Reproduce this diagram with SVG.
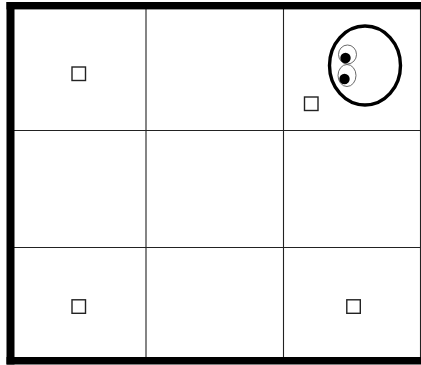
<svg xmlns="http://www.w3.org/2000/svg" width="421" height="365" viewBox="0 0 421 365">
<style>
.grid{stroke:#222;stroke-width:1.1;fill:none}
.wall{fill:#000}
.sq{fill:#fff;stroke:#222;stroke-width:1.4}
.thin{fill:none;stroke:#444;stroke-width:.8}
</style>
<rect width="421" height="365" fill="#fff"/>
<g id="grid">
<path class="grid" d="M146 9V357M283.500 9V357M420.500 9V357M14 130.500H420M14 247.500H420"/>
</g>
<g id="walls">
<rect class="wall" x="6.500" y="2" width="414.500" height="7.400"/>
<rect class="wall" x="6.500" y="2" width="8" height="362.500"/>
<rect class="wall" x="6.500" y="357" width="414.500" height="7.500"/>
</g>
<g id="square-top-left"><rect class="sq" x="72" y="67" width="13.500" height="13.500"/></g>
<g id="square-bottom-left"><rect class="sq" x="72" y="299.800" width="13.500" height="13.500"/></g>
<g id="square-bottom-right"><rect class="sq" x="346.800" y="299.800" width="13.500" height="13.500"/></g>
<g id="square-top-right"><rect class="sq" x="304.500" y="97" width="13.500" height="13.500"/></g>
<g id="creature">
<ellipse cx="365" cy="65.500" rx="35.500" ry="39.500" fill="none" stroke="#000" stroke-width="3.400"/>
<ellipse class="thin" cx="347.500" cy="54.500" rx="9" ry="9.500"/>
<ellipse class="thin" cx="347" cy="75.500" rx="9" ry="11"/>
<circle cx="345.500" cy="58" r="5.200" fill="#000"/>
<circle cx="344.500" cy="79" r="5.200" fill="#000"/>
</g>
</svg>
